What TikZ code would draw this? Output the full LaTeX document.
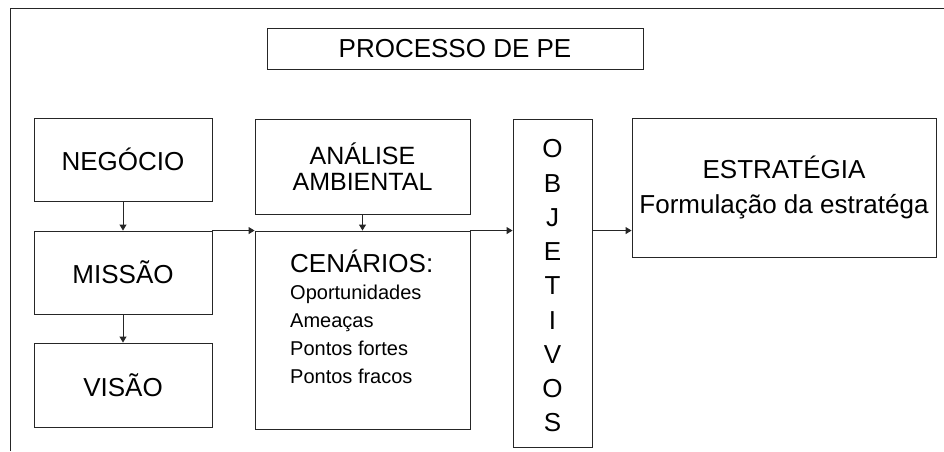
\documentclass[tikz,border=0pt]{standalone}
\usepackage{fontspec}
\setmainfont{Liberation Sans}
\usetikzlibrary{arrows.meta}
\begin{document}
\begin{tikzpicture}[x=1pt,y=-1pt,
  box/.style={draw=black!85, line width=0.9pt, inner sep=0pt, align=center,
    font=\fontsize{26}{26}\selectfont},
  txt/.style={inner sep=0pt, font=\fontsize{20}{20}\selectfont, anchor=base west},
  arr/.style={draw=black!85, line width=0.9pt, -{Triangle[length=6pt,width=7pt]}}]
\useasboundingbox (0,0) rectangle (944,451);
\draw[black!85, line width=0.9pt] (10,451) -- (10,8) -- (944,8);
\node[box, minimum width=376pt, minimum height=41pt] (tit) at (455,48.5) {PROCESSO DE PE};
\node[box, minimum width=178pt, minimum height=83pt] (neg) at (123,159.5) {NEGÓCIO};
\node[box, minimum width=178pt, minimum height=83pt] (mis) at (123,272.5) {MISSÃO};
\node[box, minimum width=178pt, minimum height=84pt] (vis) at (123,385) {VISÃO};
\node[box, minimum width=215pt, minimum height=95pt, font=\fontsize{25}{26}\selectfont] (ana) at (362.5,166.5) {ANÁLISE\\AMBIENTAL};
\node[box, minimum width=215pt, minimum height=198pt] (cen) at (362.5,330) {};
\node[txt, font=\fontsize{26}{26}\selectfont] (cent) at (290,272) {CENÁRIOS:};
\node[txt] (op) at (290,299) {Oportunidades};
\node[txt] (am) at (290,327) {Ameaças};
\node[txt] (pf) at (290,355) {Pontos fortes};
\node[txt] (pr) at (290,383) {Pontos fracos};
\node[box, minimum width=79pt, minimum height=328pt] (obj) at (552.5,283) {};
\node[inner sep=0pt, align=center, font=\fontsize{26}{34.25}\selectfont] (objt) at (552.5,286) {O\\B\\J\\E\\T\\I\\V\\O\\S};
\node[box, minimum width=304pt, minimum height=139pt, font=\fontsize{26}{35}\selectfont] (est) at (784,187.5) {ESTRATÉGIA\\Formulação da estratéga};
\draw[arr] (neg.south) -- (mis.north);
\draw[arr] (mis.south) -- (vis.north);
\draw[arr] (ana.south) -- (cen.north);
\draw[arr] (mis.north east) -- (cen.north west);
\draw[arr] (cen.north east) -- (cen.north east -| obj.west);
\draw[arr] (obj.east |- cen.north) -- (est.west |- cen.north);
\end{tikzpicture}
\end{document}
